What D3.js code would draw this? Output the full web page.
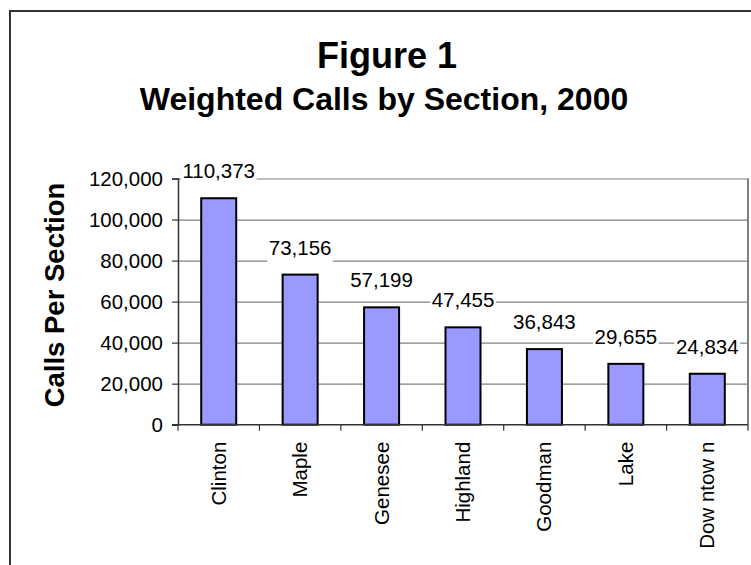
<!DOCTYPE html>
<html>
<head>
<meta charset="utf-8">
<script src="https://cdn.jsdelivr.net/npm/d3@7"></script>
<style>
  html, body { margin: 0; padding: 0; background: #fff; }
  svg { display: block; font-family: "Liberation Sans", Arial, sans-serif; }
</style>
</head>
<body>
<svg id="chart" width="751" height="565"></svg>
<script>
const categories = ["Clinton", "Maple", "Genesee", "Highland", "Goodman", "Lake", "Dow ntow n"];
const values = [110373, 73156, 57199, 47455, 36843, 29655, 24834];
const yTicks = [0, 20000, 40000, 60000, 80000, 100000, 120000];
const titleText = "Figure 1";
const subtitleText = "Weighted Calls by Section, 2000";
const yAxisTitle = "Calls Per Section";

(function () {
const svg = d3.select("#chart");
const fmt = d3.format(",");

// outer frame
svg.append("rect")
  .attr("x", 10).attr("y", 11).attr("width", 800).attr("height", 600)
  .attr("fill", "#fff").attr("stroke", "#333").attr("stroke-width", 2);

// titles
svg.append("text").attr("x", 387).attr("y", 68)
  .attr("text-anchor", "middle").attr("font-size", 36).attr("font-weight", "bold")
  .text(titleText);
svg.append("text").attr("x", 384).attr("y", 110)
  .attr("text-anchor", "middle").attr("font-size", 32).attr("font-weight", "bold")
  .text(subtitleText);

const pLeft = 178, pRight = 748, pTop = 178.5, pBottom = 424.7;
const x = d3.scaleBand().domain(categories).range([pLeft, pRight]).padding(0);
const y = d3.scaleLinear().domain([0, 120000]).range([pBottom, pTop]);

// gridlines
const grid = svg.append("g").attr("transform", `translate(${pLeft},0)`)
  .call(d3.axisLeft(y).tickValues(yTicks.filter(d => d > 0)).tickSize(-(pRight - pLeft)).tickFormat(""));
grid.select(".domain").remove();
grid.selectAll("line").attr("stroke", "#808080").attr("stroke-width", 1.2);

// right border of plot
svg.append("line").attr("x1", pRight).attr("x2", pRight).attr("y1", pTop).attr("y2", pBottom)
  .attr("stroke", "#808080").attr("stroke-width", 2);

// y axis
const yAxis = svg.append("g").attr("transform", `translate(${pLeft},0)`)
  .call(d3.axisLeft(y).tickValues(yTicks).tickSize(6).tickPadding(9).tickFormat(fmt));
yAxis.select(".domain").attr("stroke", "#333").attr("stroke-width", 1.5);
yAxis.selectAll(".tick line").attr("stroke", "#333").attr("stroke-width", 1.2);
yAxis.selectAll(".tick text").attr("font-size", 20.5).attr("fill", "#000")
  .attr("font-family", "'Liberation Sans', Arial, sans-serif");

// y axis title
svg.append("text")
  .attr("transform", "translate(64,295) rotate(-90)")
  .attr("text-anchor", "middle").attr("font-size", 27.5).attr("font-weight", "bold")
  .text(yAxisTitle);

// bars
const barW = x.bandwidth() * 0.43;
svg.append("g").selectAll("rect").data(values).join("rect")
  .attr("x", (d, i) => x(categories[i]) + (x.bandwidth() - barW) / 2)
  .attr("y", d => y(d))
  .attr("width", barW)
  .attr("height", d => pBottom - y(d))
  .attr("fill", "#9999FF").attr("stroke", "#000").attr("stroke-width", 2);

// x axis
const xAxis = svg.append("g").attr("transform", `translate(0,${pBottom})`)
  .call(d3.axisBottom(x).tickSize(0).tickPadding(0));
xAxis.select(".domain").remove();
svg.append("line").attr("x1", pLeft - 6).attr("x2", pRight).attr("y1", pBottom).attr("y2", pBottom)
  .attr("stroke", "#333").attr("stroke-width", 1.5);
// category boundary ticks
const bounds = categories.map(c => x(c)).concat([pRight]);
svg.append("g").selectAll("line").data(bounds).join("line")
  .attr("x1", d => d).attr("x2", d => d).attr("y1", pBottom).attr("y2", pBottom + 6)
  .attr("stroke", "#333").attr("stroke-width", 1.2);
xAxis.selectAll(".tick text")
  .attr("font-size", 20.5).attr("fill", "#000")
  .attr("font-family", "'Liberation Sans', Arial, sans-serif")
  .attr("text-anchor", "end")
  .attr("dy", null)
  .attr("transform", "translate(7,17) rotate(-90)")
  .attr("x", 0).attr("y", 0);

// data labels with white background
const lbl = svg.append("g").selectAll("g").data(values).join("g");
lbl.append("text")
  .attr("x", (d, i) => x(categories[i]) + x.bandwidth() / 2)
  .attr("y", d => y(d) - 20)
  .attr("text-anchor", "middle").attr("font-size", 20.5)
  .text(d => fmt(d));
lbl.each(function () {
  const g = d3.select(this);
  const t = g.select("text");
  const b = t.node().getBBox();
  g.insert("rect", "text")
    .attr("x", b.x - 1.5).attr("y", b.y + 2)
    .attr("width", b.width + 3).attr("height", b.height + 2)
    .attr("fill", "#fff");
});
})();
</script>
</body>
</html>
